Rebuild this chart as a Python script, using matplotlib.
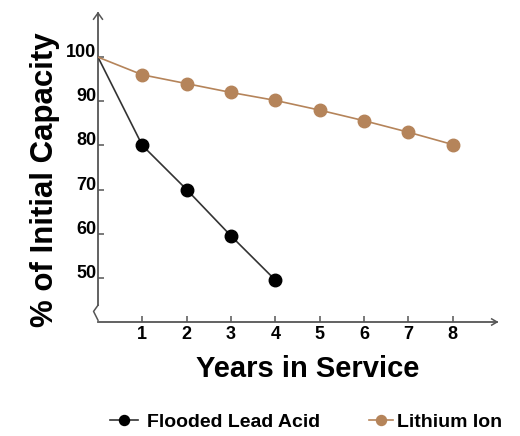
import matplotlib
matplotlib.use("Agg")
import matplotlib.pyplot as plt

years_lead = [0, 1, 2, 3, 4]
lead_acid = [100, 80, 70, 59.5, 49.5]
years_li = [0, 1, 2, 3, 4, 5, 6, 7, 8]
lithium = [100, 96, 94, 92, 90.2, 88, 85.6, 83, 80.2]
x_ticks = [1, 2, 3, 4, 5, 6, 7, 8]
y_ticks = [50, 60, 70, 80, 90, 100]

plt.rcParams['font.family'] = ['Liberation Sans', 'DejaVu Sans']
plt.rcParams['font.weight'] = 'bold'

fig = plt.figure(figsize=(5.2, 4.36), dpi=100)
ax = fig.add_axes([98/520, 1 - 322/436, 399/520, 309/436])
ax.set_xlim(0, 9)
ax.set_ylim(40, 110)

brown = '#B5845A'
l1, = ax.plot(years_lead, lead_acid, color='#333333', lw=1.2, marker='o', ms=9,
              markerfacecolor='black', markeredgecolor='black',
              markevery=list(range(1, len(years_lead))),
              label='Flooded Lead Acid', zorder=3)
l2, = ax.plot(years_li, lithium, color=brown, lw=1.2, marker='o', ms=9,
              markerfacecolor=brown, markeredgecolor=brown,
              markevery=list(range(1, len(years_li))),
              label='Lithium Ion', zorder=3)

for s in ax.spines.values():
    s.set_visible(False)

axc = '#555555'
# y axis with break
ax.plot([0, 0], [43.8, 110], color=axc, lw=1.3, clip_on=False)
ax.plot([0, -0.1, 0], [43.8, 42.4, 40.4], color=axc, lw=1.1, clip_on=False)
ax.plot([0, 9], [40, 40], color=axc, lw=1.3, clip_on=False)
# arrow heads
ax.plot([-0.1, 0, 0.1], [108.6, 110, 108.6], color=axc, lw=1.1, clip_on=False)
ax.plot([8.88, 9, 8.88], [40.7, 40, 39.3], color=axc, lw=1.1, clip_on=False)

ax.set_xticks(x_ticks)
ax.set_yticks(y_ticks)
ax.tick_params(axis='both', direction='in', length=4, width=1.1, color=axc,
               labelsize=13)
ax.tick_params(axis='x', pad=3)
ax.tick_params(axis='y', pad=1)
for lab in ax.get_yticklabels():
    lab.set_fontweight('bold')
    lab.set_verticalalignment('baseline')
for lab in ax.get_xticklabels():
    lab.set_fontweight('bold')

ax.set_xlabel('Years in Service', fontsize=21, fontweight='bold')
ax.xaxis.set_label_coords(0.526, -0.107)
ax.set_ylabel('% of Initial Capacity', fontsize=22.5, fontweight='bold', va='center')
ax.yaxis.set_label_coords(-0.133, 0.46)

common = dict(frameon=False, fontsize=14, borderpad=0, borderaxespad=0,
              markerscale=0.8, loc='center left')
leg1 = fig.legend(handles=[l1], bbox_to_anchor=(110/520, 1 - 422/436),
                  handlelength=1.45, handletextpad=0.45, **common)
leg2 = fig.legend(handles=[l2], bbox_to_anchor=(369/520, 1 - 422/436),
                  handlelength=1.25, handletextpad=0.2, **common)
for leg in (leg1, leg2):
    for t in leg.get_texts():
        t.set_fontweight('bold')

fig.savefig('out.png', dpi=100)
